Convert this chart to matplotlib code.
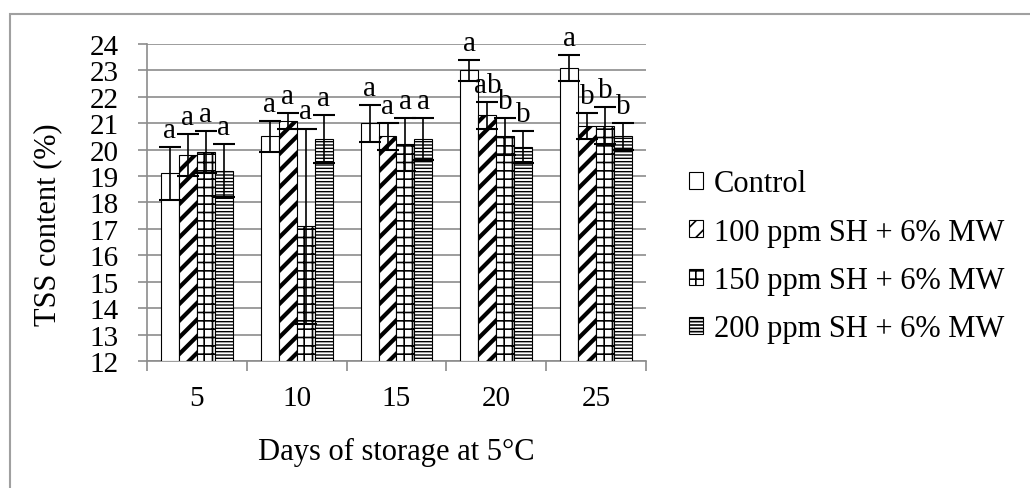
import matplotlib.pyplot as plt
from matplotlib.patches import Rectangle
import numpy as np

plt.rcParams['font.family'] = ['Liberation Serif', 'DejaVu Serif']
plt.rcParams['hatch.linewidth'] = 1.2

days = ['5', '10', '15', '20', '25']
series = ['Control', '100 ppm SH + 6% MW', '150 ppm SH + 6% MW', '200 ppm SH + 6% MW']
control = [19.1, 20.5, 21.0, 23.0, 23.1]
sh100 = [19.8, 21.1, 20.5, 21.3, 20.9]
sh150 = [19.9, 17.1, 20.2, 20.5, 20.9]
sh200 = [19.2, 20.4, 20.4, 20.1, 20.5]
err_control = [1.0, 0.6, 0.7, 0.4, 0.5]
err_100 = [0.8, 0.3, 0.5, 0.5, 0.5]
err_150 = [0.8, 3.7, 1.0, 0.7, 0.7]
err_200 = [1.0, 0.9, 0.8, 0.6, 0.5]
letters_control = ['a', 'a', 'a', 'a', 'a']
letters_100 = ['a', 'a', 'a', 'ab', 'b']
letters_150 = ['a', 'a', 'a', 'b', 'b']
letters_200 = ['a', 'a', 'a', 'b', 'b']

values = [control, sh100, sh150, sh200]
errors = [err_control, err_100, err_150, err_200]
letters = [letters_control, letters_100, letters_150, letters_200]
hatches = [None, '//', '++', '-----']
hatch_lw = [1.0, 3.0, 1.2, 1.0]

fig = plt.figure(figsize=(10.3, 4.89), dpi=100)
ax = fig.add_axes([0.1427, 0.2597, 0.4845, 0.6483])

x = np.arange(len(days))
w = 0.18
handles = []
for i in range(4):
    pos = x + (i - 1.5) * w
    bars = ax.bar(pos, np.array(values[i]) - 12, w, bottom=12, color='white',
                  edgecolor='black', linewidth=0.8, hatch=hatches[i], zorder=3)
    for b in bars:
        if hasattr(b, 'set_hatch_linewidth'):
            b.set_hatch_linewidth(hatch_lw[i])
    handles.append(bars[0])
    ax.errorbar(pos, values[i], yerr=errors[i], fmt='none', ecolor='black',
                elinewidth=1.2, capsize=8, capthick=1.5, zorder=4)
    for p, v, e, t in zip(pos, values[i], errors[i], letters[i]):
        ax.text(p, v + e + 0.38, t, ha='center', va='baseline', fontsize=21, zorder=5)

ax.set_ylim(12, 24)
ax.set_xlim(-0.5, 4.5)
ax.set_yticks(range(12, 25))
ax.yaxis.grid(True, color='#8c8c8c', linewidth=1.2, zorder=0)
ax.set_axisbelow(True)
ax.set_xticks(x)
ax.set_xticklabels(days)
ax.set_xticks(np.arange(-0.5, 5, 1), minor=True)
ax.tick_params(axis='x', which='major', length=0, pad=17, labelsize=21)
ax.tick_params(axis='x', which='minor', length=7, width=1.2, color='#8c8c8c', direction='out')
ax.tick_params(axis='y', length=6.5, width=1.2, color='#8c8c8c', labelsize=21, pad=14)
for s in ['top', 'right']:
    ax.spines[s].set_visible(False)
for s in ['left', 'bottom']:
    ax.spines[s].set_color('#8c8c8c')
    ax.spines[s].set_linewidth(1.2)

ax.set_xlabel('Days of storage at 5°C', fontsize=22, va='top')
ax.xaxis.set_label_coords(0.5, -0.24)
ax.set_ylabel('TSS content (%)', fontsize=22)
ax.yaxis.set_label_coords(-0.17, 0.432)

leg = fig.legend(handles, series, loc='center left', bbox_to_anchor=(0.657, 0.474),
                 borderaxespad=0, frameon=False, fontsize=22, handlelength=0.46,
                 handleheight=0.46, handletextpad=0.35, labelspacing=0.63)

fig.patches.append(Rectangle((0.0097, -0.01), 1.0, 0.979, transform=fig.transFigure,
                             fill=False, edgecolor='#a0a0a0', linewidth=1.5))

fig.savefig('out.png', dpi=100)
